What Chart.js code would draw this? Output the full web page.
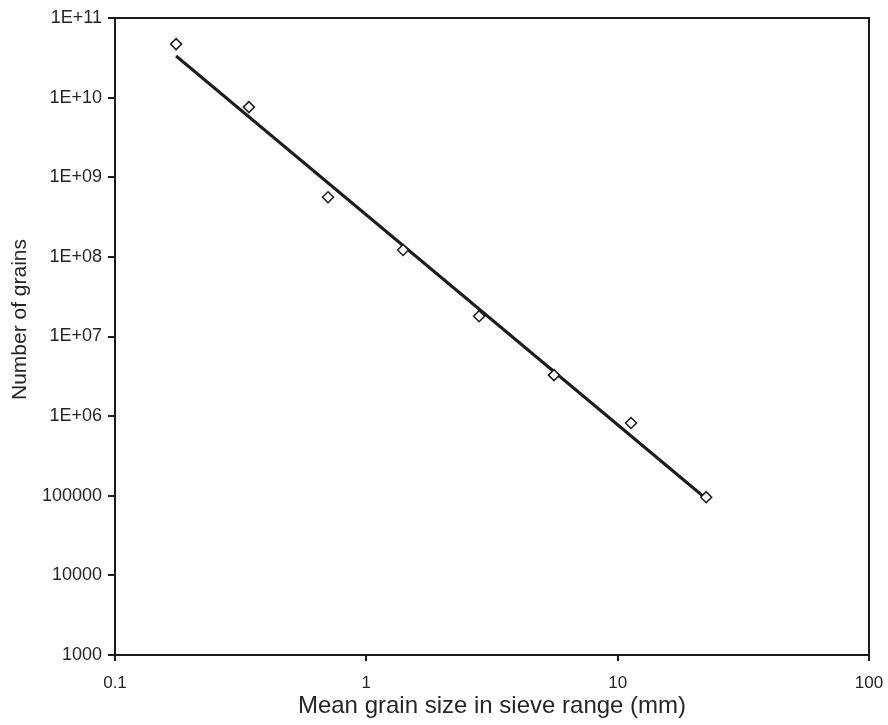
<!DOCTYPE html>
<html>
<head>
<meta charset="utf-8">
<script src="https://cdn.jsdelivr.net/npm/chart.js@4.4.1/dist/chart.umd.min.js"></script>
<style>
html,body{margin:0;padding:0;background:#fff;}
#wrap{width:888px;height:725px;}
</style>
</head>
<body>
<div id="wrap"><canvas id="c" width="888" height="725"></canvas></div>
<script>
// Measured sieve data
const grainSize = [0.175, 0.341, 0.704, 1.40, 2.81, 5.58, 11.3, 22.5];
const grainCount = [4.7e10, 7.6e9, 5.6e8, 1.22e8, 1.8e7, 3.27e6, 8.2e5, 9.6e4];
// Fitted power-law line end points
const fitX = [0.175, 22.2];
const fitY = [3.33e10, 9.5e4];
// Axis ticks
const xTicks = [0.1, 1, 10, 100];
const yTicks = [1e3, 1e4, 1e5, 1e6, 1e7, 1e8, 1e9, 1e10, 1e11];
const xTitle = 'Mean grain size in sieve range (mm)';
const yTitle = 'Number of grains';

const INK = '#1c1c1c';
const TXT = '#262626';
const FONT = "'Liberation Sans', Arial, sans-serif";

function yLabel(v) {
  const e = Math.round(Math.log10(v));
  if (e >= 6) return '1E+' + String(e).padStart(2, '0');
  return String(Math.round(v));
}
function xLabel(v) {
  return String(v);
}

const frame = {
  id: 'frame',
  afterDatasetsDraw(chart) {
    const {ctx, chartArea: a} = chart;
    ctx.save();
    ctx.strokeStyle = INK;
    ctx.lineWidth = 2;
    ctx.beginPath();
    ctx.moveTo(a.left, a.top);
    ctx.lineTo(a.right, a.top);
    ctx.lineTo(a.right, a.bottom);
    ctx.stroke();
    ctx.restore();
  },
  afterDraw(chart) {
    const {ctx, chartArea: a} = chart;
    ctx.save();
    ctx.fillStyle = TXT;
    ctx.font = '21px ' + FONT;
    ctx.textAlign = 'center';
    ctx.textBaseline = 'middle';
    ctx.translate(20, (a.top + a.bottom) / 2 - 17);
    ctx.rotate(-Math.PI / 2);
    ctx.fillText(yTitle, 0, 0);
    ctx.restore();
  }
};

new Chart(document.getElementById('c'), {
  type: 'scatter',
  data: {
    datasets: [
      {
        label: 'fit',
        data: fitX.map((x, i) => ({x, y: fitY[i]})),
        showLine: true,
        borderColor: INK,
        borderWidth: 3,
        pointRadius: 0,
        order: 2
      },
      {
        label: 'data',
        data: grainSize.map((x, i) => ({x, y: grainCount[i]})),
        pointStyle: 'rectRot',
        pointRadius: 5.5,
        pointBorderWidth: 1.5,
        pointBorderColor: INK,
        pointBackgroundColor: '#fff',
        showLine: false,
        order: 1
      }
    ]
  },
  plugins: [frame],
  options: {
    responsive: false,
    animation: false,
    layout: {padding: {left: 0, right: 19, top: 18, bottom: 0}},
    plugins: {legend: {display: false}, tooltip: {enabled: false}},
    scales: {
      x: {
        type: 'logarithmic',
        min: 0.1, max: 100,
        afterBuildTicks(s) { s.ticks = xTicks.map(v => ({value: v})); },
        afterFit(s) { s.height = 70; s.paddingRight = 0; s.paddingLeft = 0; },
        ticks: {
          callback: (v) => xLabel(v),
          color: TXT,
          font: {family: FONT, size: 17},
          padding: 12,
          maxRotation: 0,
          autoSkip: false
        },
        grid: {drawOnChartArea: false, drawTicks: true, tickLength: 6, color: INK, lineWidth: 2},
        border: {display: true, color: INK, width: 2},
        title: {
          display: true, text: xTitle, color: TXT,
          font: {family: FONT, size: 24},
          padding: {top: 4, bottom: 4}
        }
      },
      y: {
        type: 'logarithmic',
        min: 1e3, max: 1e11,
        afterBuildTicks(s) { s.ticks = yTicks.map(v => ({value: v})); },
        afterFit(s) { s.width = 115; s.paddingTop = 0; s.paddingBottom = 0; },
        ticks: {
          callback: (v) => yLabel(v),
          color: TXT,
          font: {family: FONT, size: 18},
          padding: 6,
          autoSkip: false
        },
        grid: {drawOnChartArea: false, drawTicks: true, tickLength: 7, color: INK, lineWidth: 2},
        border: {display: true, color: INK, width: 2},
        title: {display: false}
      }
    }
  }
});
</script>
</body>
</html>
